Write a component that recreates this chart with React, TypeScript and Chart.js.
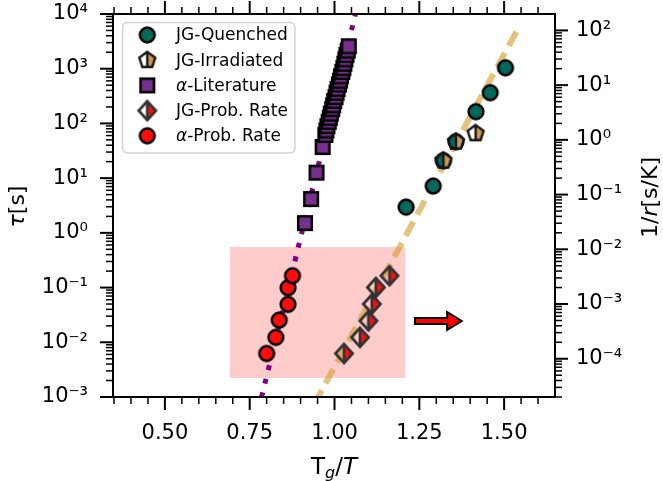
import React, { useEffect, useRef } from 'react';
import { Chart, registerables } from 'chart.js';

Chart.register(...registerables);

// ---------------- data ----------------
const jgQuenchedX = [1.211, 1.291, 1.321, 1.358, 1.417, 1.459, 1.504];
const jgQuenchedTau = [2.96, 7.18, 20.8, 46.3, 164, 365, 1040];

const jgIrradiatedX = [1.321, 1.358, 1.416];
const jgIrradiatedTau = [20.8, 46.3, 65.9];

const alphaLitX = [0.913, 0.931, 0.947, 0.965, 0.973, 0.976, 0.979, 0.983, 0.986, 0.989, 0.993, 0.996, 0.999, 1.003, 1.006, 1.009, 1.013, 1.016, 1.019, 1.023, 1.026, 1.029, 1.032, 1.035, 1.039, 1.042];
const alphaLitTau = [1.51, 4.15, 12.6, 37.0, 61.7, 74.1, 89.1, 107, 126, 151, 182, 214, 257, 302, 363, 427, 513, 603, 724, 871, 1023, 1230, 1479, 1778, 2138, 2570];

const jgProbX = [1.028, 1.075, 1.100, 1.110, 1.122, 1.162];
const jgProbRate = [1.25e-4, 2.46e-4, 4.94e-4, 1.0e-3, 2.01e-3, 3.29e-3];

const alphaProbX = [0.800, 0.827, 0.837, 0.863, 0.863, 0.876];
const alphaProbRate = [1.25e-4, 2.46e-4, 5.09e-4, 9.86e-4, 1.98e-3, 3.29e-3];

const alphaFitX = [0.775, 1.063];
const alphaFitTau = [5.58e-4, 1.08e4];

const jgFitX = [0.94, 1.547];
const jgFitTau = [7.3e-4, 6300];

const seriesLabels = ['JG-Quenched', 'JG-Irradiated', 'α-Literature', 'JG-Prob. Rate', 'α-Prob. Rate'];

const xRange = [0.347, 1.65];
const tauRange = [1e-3, 1e4];
const rateRange = [2.0e-5, 199.5];

const xTickValues = [0.5, 0.75, 1.0, 1.25, 1.5];
const tauTickExps = [-3, -2, -1, 0, 1, 2, 3, 4];
const rateTickExps = [-4, -3, -2, -1, 0, 1, 2];

// highlighted region (x range, tau range) and arrow (x tail, head base, tip; tau level)
const boxX = [0.692, 1.209];
const boxTau = [0.00222, 0.55];
const arrowX = [1.237, 1.332, 1.375];
const arrowTau = 0.0245;

// ---------------- styles ----------------
const FONT = "'DejaVu Sans'";
const TEAL = '#00695c';
const TAN = '#cd9a52';
const PURPLE = '#77308c';
const RED = '#ff0d0d';
const MAJOR = 13;
const MINOR = 7;

function mk(size: number, draw: (g: CanvasRenderingContext2D) => void) {
  const c = document.createElement('canvas');
  c.width = size;
  c.height = size;
  const g = c.getContext('2d')!;
  g.translate(size / 2, size / 2);
  draw(g);
  return c;
}

function circleMarker(fill: string) {
  return mk(22, (g) => {
    g.beginPath();
    g.arc(0, 0, 7.4, 0, Math.PI * 2);
    g.fillStyle = fill;
    g.fill();
    g.lineWidth = 2.5;
    g.strokeStyle = '#000';
    g.stroke();
  });
}

function squareMarker() {
  return mk(22, (g) => {
    g.fillStyle = PURPLE;
    g.fillRect(-6.8, -6.8, 13.6, 13.6);
    g.lineWidth = 2.5;
    g.strokeStyle = '#000';
    g.strokeRect(-6.8, -6.8, 13.6, 13.6);
  });
}

function pentagonMarker() {
  return mk(24, (g) => {
    const R = 8.4;
    const pts: [number, number][] = [];
    for (let i = 0; i < 5; i++) {
      const a = -Math.PI / 2 + (i * 2 * Math.PI) / 5;
      pts.push([R * Math.cos(a), R * Math.sin(a)]);
    }
    const by = pts[2][1];
    g.beginPath();
    g.moveTo(0, pts[0][1]);
    g.lineTo(pts[1][0], pts[1][1]);
    g.lineTo(pts[2][0], pts[2][1]);
    g.lineTo(0, by);
    g.closePath();
    g.fillStyle = TAN;
    g.fill();
    g.lineWidth = 2.4;
    g.strokeStyle = '#151515';
    g.lineJoin = 'miter';
    g.beginPath();
    pts.forEach((p, i) => (i === 0 ? g.moveTo(p[0], p[1]) : g.lineTo(p[0], p[1])));
    g.closePath();
    g.stroke();
    g.beginPath();
    g.moveTo(0, pts[0][1]);
    g.lineTo(0, by);
    g.stroke();
  });
}

function diamondMarker() {
  return mk(26, (g) => {
    const w = 8.6;
    const h = 9.4;
    g.beginPath();
    g.moveTo(0, -h);
    g.lineTo(w, 0);
    g.lineTo(0, h);
    g.closePath();
    g.fillStyle = RED;
    g.fill();
    g.lineWidth = 2.8;
    g.strokeStyle = '#333';
    g.beginPath();
    g.moveTo(0, -h);
    g.lineTo(w, 0);
    g.lineTo(0, h);
    g.lineTo(-w, 0);
    g.closePath();
    g.stroke();
    g.beginPath();
    g.moveTo(0, -h);
    g.lineTo(0, h);
    g.stroke();
  });
}

function supLabel(e: number) {
  const m: Record<string, string> = { '0': '⁰', '1': '¹', '2': '²', '3': '³', '4': '⁴', '5': '⁵', '-': '⁻' };
  return '10' + String(e).split('').map((c) => m[c]).join('');
}

type Part = { t: string; italic?: boolean; scale?: number; dy?: number };

function drawParts(ctx: CanvasRenderingContext2D, parts: Part[], size: number, x: number, y: number, align: 'left' | 'center') {
  const fontOf = (p: Part) => `${p.italic ? 'italic ' : ''}${Math.round(size * (p.scale || 1))}px ${FONT}`;
  let total = 0;
  for (const p of parts) {
    ctx.font = fontOf(p);
    total += ctx.measureText(p.t).width;
  }
  let cx = align === 'center' ? x - total / 2 : x;
  ctx.textAlign = 'left';
  for (const p of parts) {
    ctx.font = fontOf(p);
    ctx.fillText(p.t, cx, y + (p.dy || 0));
    cx += ctx.measureText(p.t).width;
  }
}

function labelParts(label: string): Part[] {
  if (label.startsWith('α')) return [{ t: 'α', italic: true }, { t: label.slice(1) }];
  return [{ t: label }];
}

const zeroPad = (s: any) => {
  s.paddingTop = 0;
  s.paddingBottom = 0;
  s.paddingLeft = 0;
  s.paddingRight = 0;
};

export default function App() {
  const ref = useRef<HTMLCanvasElement>(null);

  useEffect(() => {
    const canvas = ref.current;
    if (!canvas) return;

    const mTeal = circleMarker(TEAL);
    const mRed = circleMarker(RED);
    const mSquare = squareMarker();
    const mPent = pentagonMarker();
    const mDiam = diamondMarker();
    const legendMarkers = [mTeal, mPent, mSquare, mDiam, mRed];

    const pts = (xs: number[], ys: number[]) => xs.map((x, i) => ({ x, y: ys[i] }));

    const decor = {
      id: 'decor',
      beforeDatasetsDraw(chart: any) {
        const { ctx, scales } = chart;
        const x = scales.x;
        const yL = scales.yL;
        const x0 = x.getPixelForValue(boxX[0]);
        const x1 = x.getPixelForValue(boxX[1]);
        const y0 = yL.getPixelForValue(boxTau[1]);
        const y1 = yL.getPixelForValue(boxTau[0]);
        ctx.save();
        ctx.fillStyle = 'rgba(255,0,0,0.2)';
        ctx.fillRect(x0, y0, x1 - x0, y1 - y0);
        ctx.restore();
      },
      afterDatasetsDraw(chart: any) {
        const { ctx, chartArea: a, scales } = chart;
        const x = scales.x;
        const yL = scales.yL;
        const yR = scales.yR;
        ctx.save();

        // arrow
        const ax0 = x.getPixelForValue(arrowX[0]);
        const ax1 = x.getPixelForValue(arrowX[1]);
        const ax2 = x.getPixelForValue(arrowX[2]);
        const ay = yL.getPixelForValue(arrowTau);
        ctx.beginPath();
        ctx.moveTo(ax0, ay - 3);
        ctx.lineTo(ax1, ay - 3);
        ctx.lineTo(ax1, ay - 9);
        ctx.lineTo(ax2, ay);
        ctx.lineTo(ax1, ay + 9);
        ctx.lineTo(ax1, ay + 3);
        ctx.lineTo(ax0, ay + 3);
        ctx.closePath();
        ctx.fillStyle = '#ff0000';
        ctx.fill();
        ctx.lineWidth = 2;
        ctx.strokeStyle = '#000';
        ctx.lineJoin = 'miter';
        ctx.stroke();

        // frame
        ctx.lineWidth = 2;
        ctx.strokeStyle = '#000';
        ctx.strokeRect(a.left, a.top, a.right - a.left, a.bottom - a.top);

        const seg = (x1: number, y1: number, x2: number, y2: number, w: number) => {
          ctx.lineWidth = w;
          ctx.beginPath();
          ctx.moveTo(x1, y1);
          ctx.lineTo(x2, y2);
          ctx.stroke();
        };

        // x ticks (bottom + top)
        for (let i = 7; i <= 33; i++) {
          const v = i * 0.05;
          if (v < x.min || v > x.max) continue;
          const isMajor = xTickValues.some((t) => Math.abs(t - v) < 1e-6);
          const p = x.getPixelForValue(v);
          const len = isMajor ? MAJOR : MINOR;
          const w = isMajor ? 2 : 1.5;
          seg(p, a.bottom, p, a.bottom + len, w);
          seg(p, a.top, p, a.top - len, w);
        }
        // log ticks
        const logTicks = (scale: any, edge: number, dir: number) => {
          for (let e = -6; e <= 5; e++) {
            for (let k = 1; k < 10; k++) {
              const v = k * Math.pow(10, e);
              if (v < scale.min * 0.999 || v > scale.max * 1.001) continue;
              const p = scale.getPixelForValue(v);
              const len = k === 1 ? MAJOR : MINOR;
              seg(edge, p, edge + dir * len, p, k === 1 ? 2 : 1.5);
            }
          }
        };
        logTicks(yL, a.left, -1);
        logTicks(yR, a.right, 1);

        // legend
        const lx = a.left + 9.5;
        const ly = a.top + 8.5;
        const lw = 172.5;
        const lh = 130.5;
        const r = 5;
        ctx.beginPath();
        ctx.moveTo(lx + r, ly);
        ctx.arcTo(lx + lw, ly, lx + lw, ly + lh, r);
        ctx.arcTo(lx + lw, ly + lh, lx, ly + lh, r);
        ctx.arcTo(lx, ly + lh, lx, ly, r);
        ctx.arcTo(lx, ly, lx + lw, ly, r);
        ctx.closePath();
        ctx.fillStyle = 'rgba(255,255,255,0.8)';
        ctx.fill();
        ctx.lineWidth = 1.5;
        ctx.strokeStyle = '#d3d3d3';
        ctx.stroke();
        ctx.fillStyle = '#000';
        ctx.textBaseline = 'middle';
        seriesLabels.forEach((lab, i) => {
          const cy = ly + 12.5 + i * 25.2;
          const m = legendMarkers[i];
          ctx.drawImage(m, lx + 24.8 - m.width / 2, cy - m.height / 2);
          drawParts(ctx, labelParts(lab), 17, lx + 53.5, cy + 1, 'left');
        });

        // axis titles
        ctx.fillStyle = '#000';
        ctx.textBaseline = 'alphabetic';
        drawParts(
          ctx,
          [{ t: 'T' }, { t: 'g', italic: true, scale: 0.7, dy: 4 }, { t: '/' }, { t: 'T', italic: true }],
          23,
          (a.left + a.right) / 2,
          474,
          'center'
        );
        ctx.save();
        ctx.translate(24, (a.top + a.bottom) / 2 + 1);
        ctx.rotate(-Math.PI / 2);
        drawParts(ctx, [{ t: 'τ', italic: true }, { t: '[s]' }], 22, 0, 0, 'center');
        ctx.restore();
        ctx.save();
        ctx.translate(657, (a.top + a.bottom) / 2 - 8);
        ctx.rotate(-Math.PI / 2);
        drawParts(ctx, [{ t: '1/' }, { t: 'r', italic: true }, { t: '[s/K]' }], 22, 0, 0, 'center');
        ctx.restore();

        ctx.restore();
      },
    };

    const tickFont = { family: FONT, size: 21 };

    const chart = new Chart(canvas, {
      type: 'scatter',
      data: {
        datasets: [
          {
            label: 'JG fit',
            data: pts(jgFitX, jgFitTau),
            yAxisID: 'yL',
            showLine: true,
            borderColor: 'rgba(210,155,40,0.6)',
            borderWidth: 6,
            borderDash: [16, 8],
            borderCapStyle: 'butt',
            pointRadius: 0,
            clip: 0,
            order: 7,
          },
          {
            label: 'alpha fit',
            data: pts(alphaFitX, alphaFitTau),
            yAxisID: 'yL',
            showLine: true,
            borderColor: '#800080',
            borderWidth: 5,
            borderDash: [5, 9],
            borderCapStyle: 'butt',
            pointRadius: 0,
            clip: 0,
            order: 6,
          },
          {
            label: seriesLabels[0],
            data: pts(jgQuenchedX, jgQuenchedTau),
            yAxisID: 'yL',
            pointStyle: mTeal,
            order: 5,
          },
          {
            label: seriesLabels[1],
            data: pts(jgIrradiatedX, jgIrradiatedTau),
            yAxisID: 'yL',
            pointStyle: mPent,
            order: 4,
          },
          {
            label: seriesLabels[2],
            data: pts(alphaLitX, alphaLitTau),
            yAxisID: 'yL',
            pointStyle: mSquare,
            order: 3,
          },
          {
            label: seriesLabels[3],
            data: pts(jgProbX, jgProbRate),
            yAxisID: 'yR',
            pointStyle: mDiam,
            order: 2,
          },
          {
            label: seriesLabels[4],
            data: pts(alphaProbX, alphaProbRate),
            yAxisID: 'yR',
            pointStyle: mRed,
            order: 1,
          },
        ] as any,
      },
      options: {
        responsive: false,
        animation: false,
        events: [],
        layout: { padding: { top: 14, left: 0, right: 0, bottom: 0 } },
        plugins: { legend: { display: false }, tooltip: { enabled: false } },
        scales: {
          x: {
            type: 'linear',
            position: 'bottom',
            min: xRange[0],
            max: xRange[1],
            grid: { display: false, drawTicks: false },
            border: { display: false },
            ticks: {
              font: tickFont,
              color: '#000',
              padding: 24,
              autoSkip: false,
              maxRotation: 0,
              callback: (v: any) => Number(v).toFixed(2),
            },
            afterBuildTicks: (s: any) => {
              s.ticks = xTickValues.map((v) => ({ value: v }));
            },
            afterFit: (s: any) => {
              s.height = 84;
              zeroPad(s);
            },
          },
          yL: {
            type: 'logarithmic',
            position: 'left',
            min: tauRange[0],
            max: tauRange[1],
            grid: { display: false, drawTicks: false },
            border: { display: false },
            ticks: {
              font: tickFont,
              color: '#000',
              padding: 25,
              autoSkip: false,
              callback: (v: any) => supLabel(Math.round(Math.log10(Number(v)))),
            },
            afterBuildTicks: (s: any) => {
              s.ticks = tauTickExps.map((e) => ({ value: Math.pow(10, e) }));
            },
            afterFit: (s: any) => {
              s.width = 113;
              zeroPad(s);
            },
          },
          yR: {
            type: 'logarithmic',
            position: 'right',
            min: rateRange[0],
            max: rateRange[1],
            grid: { display: false, drawTicks: false },
            border: { display: false },
            ticks: {
              font: tickFont,
              color: '#000',
              padding: 21,
              autoSkip: false,
              callback: (v: any) => supLabel(Math.round(Math.log10(Number(v)))),
            },
            afterBuildTicks: (s: any) => {
              s.ticks = rateTickExps.map((e) => ({ value: Math.pow(10, e) }));
            },
            afterFit: (s: any) => {
              s.width = 108;
              zeroPad(s);
            },
          },
        },
      } as any,
      plugins: [decor],
    });

    return () => chart.destroy();
  }, []);

  return (
    <div style={{ position: 'absolute', left: 0, top: 0, width: 663, height: 481, background: '#fff' }}>
      <canvas ref={ref} width={663} height={481} style={{ display: 'block' }} />
    </div>
  );
}
